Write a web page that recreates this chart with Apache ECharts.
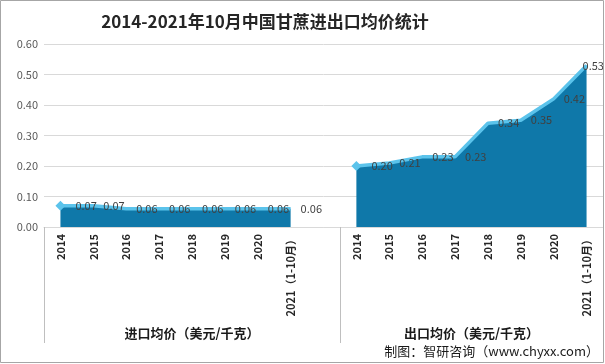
<!DOCTYPE html>
<html>
<head>
<meta charset="utf-8">
<script src="https://cdn.jsdelivr.net/npm/echarts@6/dist/echarts.min.js"></script>
<style>html,body{margin:0;padding:0;background:#fff}#c{width:605px;height:364px}</style>
</head>
<body>
<div id="c"></div>
<script>
const titleText = '2014-2021年10月中国甘蔗进出口均价统计';
const years = ['2014','2015','2016','2017','2018','2019','2020','2021（1-10月）'];
const groups = ['进口均价（美元/千克）','出口均价（美元/千克）'];
const importValues = [0.07,0.07,0.06,0.06,0.06,0.06,0.06,0.06];
const exportValues = [0.20,0.21,0.23,0.23,0.34,0.35,0.42,0.53];
const yTicks = [0,0.1,0.2,0.3,0.4,0.5,0.6];
const sourceText = '制图：智研咨询（www.chyxx.com）';

// categories: left group (8 years + one blank slot), right group (8 years)
const categories = years.concat(['']).concat(years);
const nCat = categories.length;
const leftStart = 0, rightStart = years.length + 1;

function buildSeries(vals, start){
  const arr = new Array(nCat).fill(null);
  vals.forEach((v,i)=>{ arr[start+i] = v; });
  return arr;
}
const importData = buildSeries(importValues, leftStart);
const exportData = buildSeries(exportValues, rightStart);

const FONT = '"Noto Sans CJK SC", "Noto Sans", sans-serif';
const chart = echarts.init(document.getElementById('c'), null, {renderer:'canvas'});

function makeSeries(name, data, start, count){
  return {
    name: name,
    type: 'line',
    xAxisIndex: 0,
    data: data.map((v,i)=>{
      if (v === null) return null;
      const item = {value: v};
      if (i === start + count - 1 && name === 'export') {
        item.label = {offset:[-14,0]};
      }
      return item;
    }),
    symbol: 'diamond',
    symbolSize: (val, p) => p.dataIndex === start ? 10 : 0,
    showAllSymbol: true,
    itemStyle: {color:'#5BC3EB'},
    lineStyle: {width:3.5, color:'#5BC3EB'},
    areaStyle: {color:'#0F78A9', opacity:1},
    connectNulls: false,
    label: {
      show: true, position:'right', distance: 10,
      formatter: p => p.value == null ? '' : Number(p.value).toFixed(2),
      fontSize: 11, color:'#404040', fontFamily: FONT
    },
    emphasis: {disabled:true},
    animation: false
  };
}

chart.setOption({
  animation: false,
  title: {
    text: titleText, left: 260, top: 8, textAlign: 'center',
    textStyle: {fontSize: 17, fontWeight:'bold', color:'#262626', fontFamily: FONT}
  },
  grid: {left:44, right:2, top:44, bottom:137, containLabel:false},
  xAxis: [
    {
      type:'category', data: categories, boundaryGap:true,
      axisLine:{show:true, lineStyle:{color:'#d9d9d9', width:1}},
      axisTick:{show:false},
      axisLabel:{interval:0, rotate:90, fontSize:11, fontWeight:'bold', color:'#262626', margin:7, fontFamily: FONT}
    },
    {
      type:'value', min:0, max:nCat, position:'bottom',
      axisLine:{show:false},
      splitLine:{show:false},
      axisTick:{show:true, customValues:[0, years.length+1, nCat], length:116, inside:false, lineStyle:{color:'#bfbfbf', width:1}},
      axisLabel:{
        show:true, customValues:[(years.length+1)/2, years.length+1 + years.length/2],
        formatter: v => v < years.length+1 ? groups[0] : groups[1],
        margin:100, fontSize:13, fontWeight:'bold', color:'#1a1a1a', fontFamily: FONT
      }
    }
  ],
  yAxis: {
    type:'value', min:0, max:0.6, interval:0.1,
    axisLine:{show:false}, axisTick:{show:false},
    splitLine:{lineStyle:{color:'#d9d9d9', width:1}},
    axisLabel:{formatter: v => v.toFixed(2), fontSize:11, color:'#595959', margin:6, fontFamily: FONT}
  },
  series: [
    makeSeries('import', importData, leftStart, importValues.length),
    makeSeries('export', exportData, rightStart, exportValues.length)
  ],
  graphic: [
    {type:'rect', shape:{x:0.5, y:0.5, width:603, height:362}, style:{fill:'none', stroke:'#a6a6a6', lineWidth:1}, silent:true, z:100},
    {type:'text', right:6, top:345, style:{text: sourceText, font:'13px '+FONT, fill:'#1a1a1a'}, silent:true}
  ]
});
</script>
</body>
</html>
